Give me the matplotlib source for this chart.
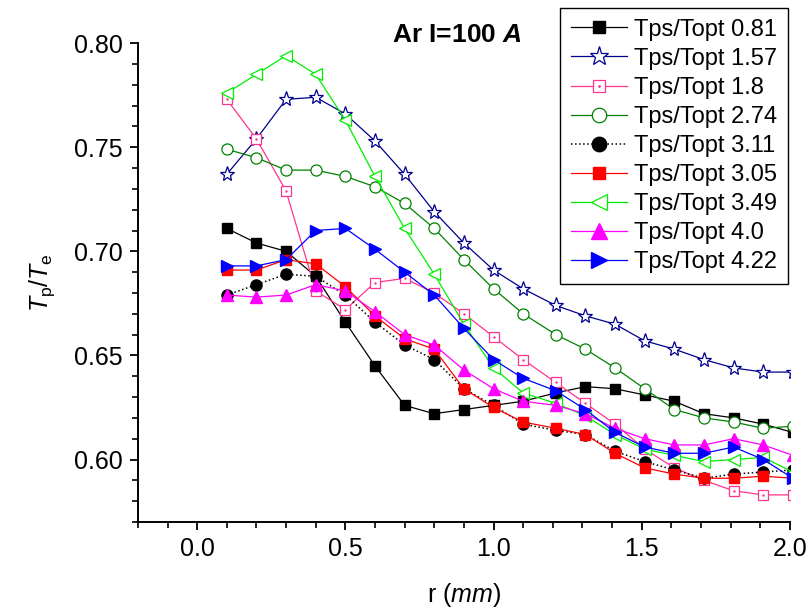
import matplotlib
matplotlib.use("Agg")
import matplotlib.pyplot as plt
from matplotlib.ticker import MultipleLocator
from matplotlib.legend_handler import HandlerTuple

plt.rcParams["font.family"] = ["Liberation Sans", "DejaVu Sans"]
plt.rcParams["mathtext.fontset"] = "custom"
plt.rcParams["mathtext.rm"] = "Liberation Sans"
plt.rcParams["mathtext.it"] = "Liberation Sans:italic"
plt.rcParams["mathtext.bf"] = "Liberation Sans:bold"
plt.rcParams["mathtext.bfit"] = "Liberation Sans:italic:bold"

# radial position (mm)
r = [0.10, 0.20, 0.30, 0.40, 0.50, 0.60, 0.70, 0.80, 0.90, 1.00,
     1.10, 1.21, 1.31, 1.41, 1.51, 1.61, 1.71, 1.81, 1.91, 2.01]

# Tp/Te for each Tps/Topt ratio
t081 = [0.711, 0.704, 0.700, 0.688, 0.666, 0.645, 0.626, 0.622, 0.624, 0.626,
        0.628, 0.632, 0.635, 0.634, 0.631, 0.628, 0.622, 0.620, 0.617, 0.613]
t157 = [0.737, 0.754, 0.773, 0.774, 0.766, 0.753, 0.737, 0.719, 0.704, 0.691,
        0.682, 0.674, 0.669, 0.665, 0.657, 0.653, 0.648, 0.644, 0.642, 0.642]
t180 = [0.773, 0.754, 0.729, 0.681, 0.672, 0.685, 0.687, 0.680, 0.670, 0.659,
        0.648, 0.637, 0.627, 0.617, 0.605, 0.596, 0.590, 0.585, 0.583, 0.583]
t274 = [0.749, 0.745, 0.739, 0.739, 0.736, 0.731, 0.723, 0.711, 0.696, 0.682,
        0.670, 0.660, 0.653, 0.644, 0.634, 0.624, 0.620, 0.618, 0.615, 0.616]
t311 = [0.679, 0.684, 0.689, 0.688, 0.679, 0.666, 0.655, 0.648, 0.634, 0.626,
        0.617, 0.614, 0.612, 0.604, 0.599, 0.595, 0.591, 0.593, 0.594, 0.595]
t305 = [0.691, 0.691, 0.696, 0.694, 0.683, 0.669, 0.658, 0.653, 0.634, 0.625,
        0.618, 0.615, 0.612, 0.603, 0.596, 0.593, 0.591, 0.591, 0.592, 0.591]
t349 = [0.776, 0.785, 0.794, 0.785, 0.763, 0.736, 0.711, 0.689, 0.665, 0.644,
        0.632, 0.627, 0.621, 0.612, 0.605, 0.602, 0.599, 0.600, 0.601, 0.594]
t400 = [0.679, 0.678, 0.679, 0.684, 0.681, 0.671, 0.660, 0.655, 0.643, 0.634,
        0.628, 0.626, 0.622, 0.615, 0.610, 0.607, 0.607, 0.610, 0.607, 0.602]
t422 = [0.693, 0.693, 0.696, 0.710, 0.711, 0.701, 0.690, 0.679, 0.663, 0.648,
        0.639, 0.633, 0.624, 0.613, 0.606, 0.603, 0.603, 0.606, 0.600, 0.591]

fig = plt.figure(figsize=(8.11, 6.10), dpi=100)
ax = fig.add_axes([0.170, 0.1443, 0.804, 0.785])

lw = 0.9
h1, = ax.plot(r, t081, "-", color="black", lw=lw, marker="s", ms=7,
              mfc="black", mec="black")
h2, = ax.plot(r, t157, "-", color="#000090", lw=lw, marker="*", ms=11,
              mfc="white", mec="#000090", mew=0.9)
h3, = ax.plot(r, t180, "-", color="#ff3390", lw=lw, marker="s", ms=7,
              mfc="white", mec="#ff3390", mew=0.9)
h3d, = ax.plot(r, t180, ls="none", marker=".", ms=1.5, color="#ff3390")
h4, = ax.plot(r, t274, "-", color="#008000", lw=lw, marker="o", ms=8,
              mfc="white", mec="#008000", mew=0.9)
h5, = ax.plot(r, t311, ":", color="black", lw=1.1, marker="o", ms=8,
              mfc="black", mec="black")
h6, = ax.plot(r, t305, "-", color="red", lw=lw, marker="s", ms=7,
              mfc="red", mec="red")
h7, = ax.plot(r, t349, "-", color="#00ee00", lw=lw, marker="<", ms=9,
              mfc="white", mec="#00ee00", mew=0.9)
h8, = ax.plot(r, t400, "-", color="magenta", lw=lw, marker="^", ms=9,
              mfc="magenta", mec="magenta")
h9, = ax.plot(r, t422, "-", color="blue", lw=lw, marker=">", ms=9,
              mfc="blue", mec="blue")

ax.set_xlim(-0.2, 2.0)
ax.set_ylim(0.57, 0.80)
ax.xaxis.set_major_locator(MultipleLocator(0.5))
ax.xaxis.set_minor_locator(MultipleLocator(0.1))
ax.yaxis.set_major_locator(MultipleLocator(0.05))
ax.yaxis.set_minor_locator(MultipleLocator(0.01))
ax.xaxis.set_major_formatter(matplotlib.ticker.FormatStrFormatter("%.1f"))
ax.yaxis.set_major_formatter(matplotlib.ticker.FormatStrFormatter("%.2f"))

for s in ("top", "right"):
    ax.spines[s].set_visible(False)
for s in ("left", "bottom"):
    ax.spines[s].set_linewidth(1.4)
ax.tick_params(which="major", direction="out", length=6, width=1.3,
               labelsize=18, pad=5)
ax.tick_params(which="minor", direction="out", length=4, width=1.2)

ax.set_xlabel(r"r ($\mathit{mm}$)", fontsize=18, labelpad=14)
ax.set_ylabel(r"$\mathit{T}_\mathrm{p}/\mathit{T}_\mathrm{e}$", fontsize=18,
              labelpad=12)

fig.text(0.483, 0.943, r"Ar I=100 $\mathbfit{A}$", fontsize=19,
         fontweight="bold", ha="left", va="center")

handles = [h1, h2, (h3, h3d), h4, h5, h6, h7, h8, h9]
labels = ["Tps/Topt 0.81", "Tps/Topt 1.57", "Tps/Topt 1.8", "Tps/Topt 2.74",
          "Tps/Topt 3.11", "Tps/Topt 3.05", "Tps/Topt 3.49", "Tps/Topt 4.0",
          "Tps/Topt 4.22"]
leg = fig.legend(handles, labels, loc="upper right",
                 bbox_to_anchor=(788 / 811, 1 - 8 / 610),
                 fontsize=17, frameon=True, fancybox=False, framealpha=1,
                 edgecolor="black", handlelength=2.4, handletextpad=0.3,
                 labelspacing=0.3, borderpad=0.45, borderaxespad=0,
                 markerscale=1.3,
                 handler_map={tuple: HandlerTuple(ndivide=1, pad=0)})
leg.get_frame().set_linewidth(1.0)

fig.savefig("out.png", dpi=100)
